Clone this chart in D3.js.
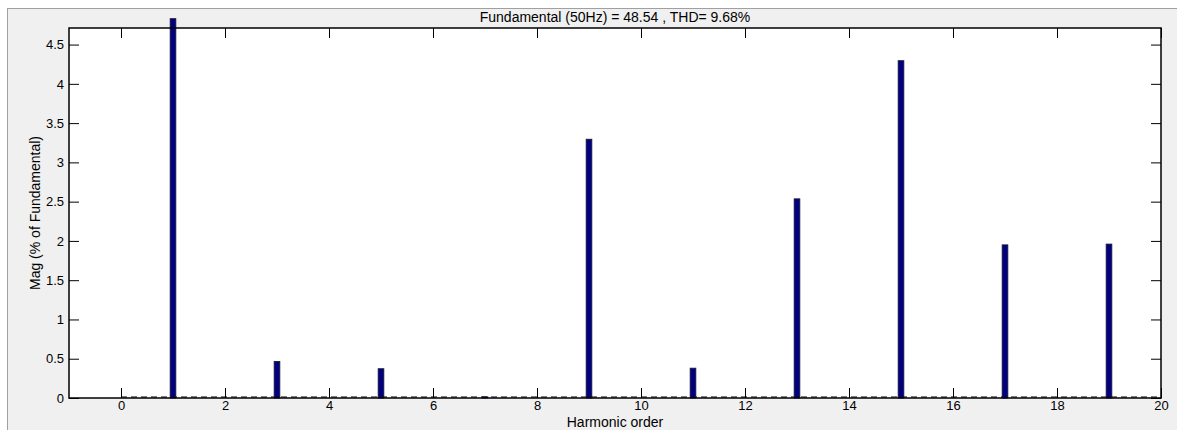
<!DOCTYPE html>
<html><head><meta charset="utf-8">
<script src="https://cdn.jsdelivr.net/npm/d3@7"></script>
<style>html,body{margin:0;padding:0;background:#fff}svg{display:block}text{font-family:"Liberation Sans",Arial,sans-serif}</style>
</head><body>
<script>
const harmonics = [0,1,2,3,4,5,6,7,8,9,10,11,12,13,14,15,16,17,18,19];
const magnitudes = [0,4.83,0,0.466,0,0.373,0,0.015,0,3.295,0,0.38,0,2.536,0,4.295,0,1.95,0,1.96];
const xTicks = [0,2,4,6,8,10,12,14,16,18,20];
const yTicks = [0,0.5,1,1.5,2,2.5,3,3.5,4,4.5];
const titleText = "Fundamental (50Hz) = 48.54 , THD= 9.68%";
const xLabel = "Harmonic order";
const yLabel = "Mag (% of Fundamental)";

const W = 1177, H = 430;
const m = {left:69, top:28, right:1161, bottom:398};
const svg = d3.select("body").append("svg").attr("width",W).attr("height",H);

svg.append("rect").attr("x",7.5).attr("y",8.5).attr("width",W).attr("height",H)
  .attr("fill","#f0f0f0").attr("stroke","#a0a0a0");

const x = d3.scaleLinear().domain([-1,20]).range([m.left,m.right]);
const y = d3.scaleLinear().domain([0,4.711]).range([m.bottom,m.top]);

svg.append("rect").attr("x",m.left).attr("y",m.top).attr("width",m.right-m.left).attr("height",m.bottom-m.top).attr("fill","#fff");

// dashed baseline
svg.append("line").attr("x1",x(0)).attr("x2",x(20)).attr("y1",y(0)-1).attr("y2",y(0)-1)
  .attr("stroke","#555").attr("stroke-width",1.5).attr("stroke-dasharray","6,4");

// bars
const bw = x(0.11)-x(0);
svg.append("g").selectAll("rect").data(harmonics.map((h,i)=>({h,v:magnitudes[i]})).filter(d=>d.v>0))
  .join("rect")
  .attr("x",d=>x(d.h)-bw/2).attr("width",bw)
  .attr("y",d=>y(d.v)).attr("height",d=>y(0)-y(d.v))
  .attr("fill","#000080").attr("stroke","#1a1a2a").attr("stroke-width",0.8);

// axes
const tl = 10;
const gx = svg.append("g").attr("transform",`translate(0,${m.bottom})`)
  .call(d3.axisBottom(x).tickValues(xTicks).tickSize(-tl).tickPadding(3).tickFormat(d3.format("d")));
const gxt = svg.append("g").attr("transform",`translate(0,${m.top})`)
  .call(d3.axisTop(x).tickValues(xTicks).tickSize(-tl).tickFormat(""));
const gy = svg.append("g").attr("transform",`translate(${m.left},0)`)
  .call(d3.axisLeft(y).tickValues(yTicks).tickSize(-tl).tickPadding(5).tickFormat(d=>String(d)));
const gyr = svg.append("g").attr("transform",`translate(${m.right},0)`)
  .call(d3.axisRight(y).tickValues(yTicks).tickSize(-tl).tickFormat(""));
[gx,gxt,gy,gyr].forEach(g=>{
  g.select(".domain").remove();
  g.selectAll("line").attr("stroke","#000");
  g.selectAll("text").attr("font-size",13).attr("fill","#000");
});
svg.append("rect").attr("x",m.left).attr("y",m.top).attr("width",m.right-m.left).attr("height",m.bottom-m.top)
  .attr("fill","none").attr("stroke","#000").attr("stroke-width",1.5);

svg.append("text").attr("x",(m.left+m.right)/2).attr("y",22).attr("text-anchor","middle")
  .attr("font-size",14).text(titleText);
svg.append("text").attr("x",(m.left+m.right)/2).attr("y",427).attr("text-anchor","middle")
  .attr("font-size",14).text(xLabel);
svg.append("text").attr("transform",`translate(40,${(m.top+m.bottom)/2}) rotate(-90)`).attr("text-anchor","middle")
  .attr("font-size",14).text(yLabel);
</script>
</body></html>
